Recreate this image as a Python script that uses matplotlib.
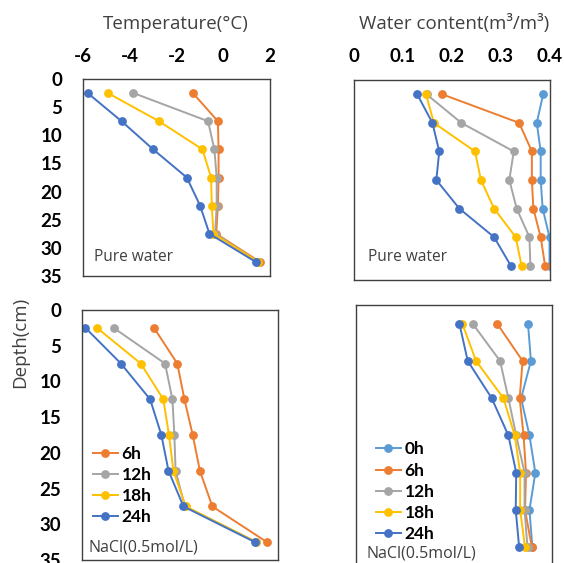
import numpy as np
import matplotlib
matplotlib.use("Agg")
import matplotlib.pyplot as plt

plt.rcParams['font.family'] = ['Open Sans', 'DejaVu Sans']

depth = [2.5, 7.5, 12.5, 17.5, 22.5, 27.5, 32.5]

# temperature, pure water
t_pure_6h = [-1.3, -0.23, -0.2, -0.2, -0.23, -0.3, 1.57]
t_pure_12h = [-3.84, -0.65, -0.38, -0.28, -0.28, -0.35, 1.5]
t_pure_18h = [-4.93, -2.75, -0.89, -0.52, -0.49, -0.42, 1.5]
t_pure_24h = [-5.8, -4.35, -3.0, -1.56, -0.99, -0.59, 1.39]

# temperature, NaCl
t_nacl_6h = [-3.06, -2.11, -1.82, -1.48, -1.19, -0.68, 1.55]
t_nacl_12h = [-4.71, -2.61, -2.31, -2.23, -2.18, -1.8, 1.12]
t_nacl_18h = [-5.39, -3.6, -2.68, -2.45, -2.27, -1.77, 1.12]
t_nacl_24h = [-5.86, -4.41, -3.22, -2.76, -2.47, -1.86, 1.06]

# water content, pure water
w_pure_0h = [0.386, 0.373, 0.381, 0.381, 0.385, 0.399, 0.399]
w_pure_6h = [0.18, 0.337, 0.363, 0.363, 0.366, 0.381, 0.39]
w_pure_12h = [0.148, 0.219, 0.326, 0.317, 0.332, 0.358, 0.36]
w_pure_18h = [0.147, 0.163, 0.247, 0.259, 0.286, 0.33, 0.342]
w_pure_24h = [0.129, 0.16, 0.174, 0.168, 0.215, 0.286, 0.32]

# water content, NaCl
w_nacl_0h = [0.351, 0.357, 0.337, 0.354, 0.366, 0.354, 0.36]
w_nacl_6h = [0.288, 0.34, 0.334, 0.342, 0.347, 0.345, 0.359]
w_nacl_12h = [0.238, 0.294, 0.311, 0.327, 0.344, 0.344, 0.35]
w_nacl_18h = [0.217, 0.245, 0.301, 0.324, 0.335, 0.335, 0.345]
w_nacl_24h = [0.211, 0.228, 0.277, 0.311, 0.327, 0.326, 0.333]

temp_ticks = [-6, -4, -2, 0, 2]
wc_ticks = [0, 0.1, 0.2, 0.3, 0.4]
wc_ticklabels = ['0', '0.1', '0.2', '0.3', '0.4']
depth_ticks = [0, 5, 10, 15, 20, 25, 30, 35]

colors = {'0h': '#5B9BD5', '6h': '#ED7D31', '12h': '#A5A5A5',
          '18h': '#FFC000', '24h': '#4472C4'}
dark = '#404040'

W, H = 564, 563
fig = plt.figure(figsize=(W / 100, H / 100), dpi=100)


def box(x0, y0, x1, y1):
    return [x0 / W, 1 - y1 / H, (x1 - x0) / W, (y1 - y0) / H]


ax_tl = fig.add_axes(box(83, 79, 270, 276))
ax_tr = fig.add_axes(box(354, 80, 550, 280))
ax_bl = fig.add_axes(box(82, 310, 278, 560))
ax_br = fig.add_axes(box(356, 305, 552, 566))

tick_font = dict(family='Lato', weight='bold', size=13.5)


def draw(ax, series, xlim):
    for name, vals in series:
        ax.plot(vals, depth, color=colors[name], marker='o', markersize=5.3,
                linewidth=1.4, label=name)
    ax.set_xlim(*xlim)
    ax.set_ylim(35, 0)
    for s in ax.spines.values():
        s.set_color(dark)
        s.set_linewidth(1.0)
    ax.tick_params(length=0)


draw(ax_tl, [('6h', t_pure_6h), ('12h', t_pure_12h), ('18h', t_pure_18h),
             ('24h', t_pure_24h)], (-6, 2))
draw(ax_bl, [('6h', t_nacl_6h), ('12h', t_nacl_12h), ('18h', t_nacl_18h),
             ('24h', t_nacl_24h)], (-6, 2))
draw(ax_tr, [('0h', w_pure_0h), ('6h', w_pure_6h), ('12h', w_pure_12h),
             ('18h', w_pure_18h), ('24h', w_pure_24h)], (0, 0.4))
draw(ax_br, [('0h', w_nacl_0h), ('6h', w_nacl_6h), ('12h', w_nacl_12h),
             ('18h', w_nacl_18h), ('24h', w_nacl_24h)], (0, 0.4))

# ticks
for ax in (ax_tl, ax_bl):
    ax.set_yticks(depth_ticks)
    ax.set_yticklabels([str(d) for d in depth_ticks], fontdict=tick_font)
    ax.tick_params(axis='y', pad=15)
for ax in (ax_tr, ax_br):
    ax.set_yticks([])

ax_tl.xaxis.tick_top()
ax_tl.set_xticks(temp_ticks)
ax_tl.set_xticklabels([str(t) for t in temp_ticks], fontdict=tick_font)
ax_tl.tick_params(axis='x', pad=10)

ax_tr.xaxis.tick_top()
ax_tr.set_xticks(wc_ticks)
ax_tr.set_xticklabels(wc_ticklabels, fontdict=tick_font)
ax_tr.tick_params(axis='x', pad=10.5)

ax_bl.set_xticks([])
ax_br.set_xticks([])

# titles and labels
fig.text(176 / W, 1 - 24 / H, 'Temperature(°C)', ha='center', va='center',
         fontsize=13.5, color=dark)
fig.text(454 / W, 1 - 24 / H, 'Water content(m³/m³)', ha='center',
         va='center', fontsize=13.5, color=dark)
fig.text(20 / W, 1 - 342 / H, 'Depth(cm)', ha='center', va='center',
         rotation=90, fontsize=13.5, color=dark)

fig.text(94 / W, 1 - 257 / H, 'Pure water', ha='left', va='center',
         fontsize=11.2, color=dark)
fig.text(368 / W, 1 - 257 / H, 'Pure water', ha='left', va='center',
         fontsize=11.2, color=dark)
fig.text(89 / W, 1 - 547 / H, 'NaCl(0.5mol/L)', ha='left', va='center',
         fontsize=11.5, color=dark)
fig.text(366 / W, 1 - 553 / H, 'NaCl(0.5mol/L)', ha='left', va='center',
         fontsize=11.5, color=dark)

leg_font = dict(family='Lato', weight='bold', size=12.5)
ax_bl.legend(loc='upper left', bbox_to_anchor=(0.02, 0.482), frameon=False,
             prop=leg_font, handlelength=1.45, handletextpad=0.2,
             labelspacing=0.28, borderaxespad=0)
ax_br.legend(loc='upper left', bbox_to_anchor=(0.066, 0.504), frameon=False,
             prop=leg_font, handlelength=1.45, handletextpad=0.2,
             labelspacing=0.3, borderaxespad=0)

fig.savefig('out.png', dpi=100)
